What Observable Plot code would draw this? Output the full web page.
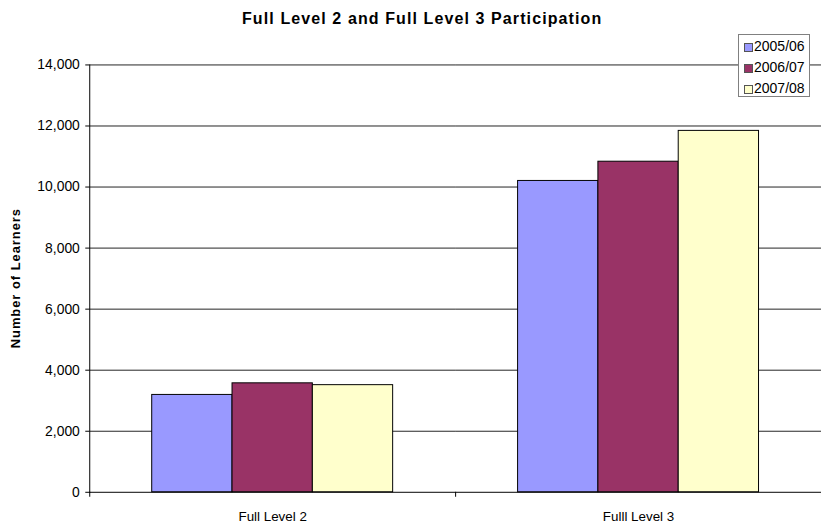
<!DOCTYPE html>
<html><head><meta charset="utf-8">
<script src="https://cdn.jsdelivr.net/npm/d3@7"></script>
<script src="https://cdn.jsdelivr.net/npm/@observablehq/plot@0.6"></script>
<style>
body{margin:0;background:#fff;}
#wrap{position:relative;width:821px;height:526px;overflow:hidden;font-family:"Liberation Sans",Arial,sans-serif;color:#000;}
#chart{position:absolute;left:0;top:0;}
#title{position:absolute;left:242px;top:11px;font-weight:bold;font-size:16px;line-height:16px;letter-spacing:1.1px;white-space:nowrap;}
#legend{position:absolute;left:738px;top:34px;width:72px;height:63px;border:1px solid #808080;background:#fff;box-sizing:border-box;padding-top:1px;}
#legend .row{height:21px;line-height:21px;font-size:14px;position:relative;white-space:nowrap;}
#legend .sw{position:absolute;left:5px;top:7px;width:7px;height:7px;border:1px solid #555;}
#legend .lab{position:absolute;left:15px;top:0;}
</style>
</head><body>
<div id="wrap">
  <div id="chart"></div>
  <div id="title">Full Level 2 and Full Level 3 Participation</div>
  <div id="legend"></div>
</div>
<script>
const categories = ["Full Level 2", "Fulll Level 3"];
const years = ["2005/06", "2006/07", "2007/08"];
const values0506 = [3190, 10200];
const values0607 = [3570, 10830];
const values0708 = [3510, 11840];
const yTicks = [0, 2000, 4000, 6000, 8000, 10000, 12000, 14000];
const colors = ["#9999FF", "#993366", "#FFFFCC"];
const yLabel = "Number of Learners";

const seriesValues = [values0506, values0607, values0708];
const data = [];
categories.forEach((c, i) => years.forEach((yr, j) => data.push({category: c, year: yr, value: seriesValues[j][i]})));

const chart = Plot.plot({
  width: 828, height: 526,
  marginLeft: 90, marginRight: 0, marginTop: 65, marginBottom: 30,
  style: {fontFamily: "'Liberation Sans', Arial, sans-serif", fontSize: "14px", background: "transparent", color: "#000", overflow: "visible"},
  fx: {domain: categories, padding: 0, label: null, axis: null},
  x: {domain: years, paddingInner: 0, paddingOuter: 0.753, axis: null},
  y: {domain: [0, 14000]},
  color: {domain: years, range: colors},
  marks: [
    Plot.gridY(yTicks.filter(d => d > 0), {stroke: "#222", strokeOpacity: 1}),
    Plot.barY(data, {fx: "category", x: "year", y: "value", fill: "year", stroke: "#000", strokeWidth: 1}),
    Plot.axisY(yTicks, {tickFormat: d3.format(","), tickSize: 4, tickPadding: 6, label: null, fontSize: 14, stroke: "#000"}),
    Plot.axisFx({anchor: "bottom", tickSize: 0, tickPadding: 19, label: null, fontSize: 13.5}),
    Plot.ruleY([0], {stroke: "#000"}),
    Plot.frame({anchor: "left", facetAnchor: "left", stroke: "#000"})
  ]
});
document.getElementById("chart").appendChild(chart);

// band-edge ticks on the category axis and y-axis title
const fxs = chart.scale("fx");
const ys = chart.scale("y");
const svg = d3.select(chart);
const y0 = ys.apply(0);
const edges = categories.map(c => fxs.apply(c)).concat([fxs.apply(categories[categories.length - 1]) + fxs.bandwidth]);
svg.append("g").selectAll("line").data(edges).join("line")
  .attr("x1", d => Math.round(d) + 0.5).attr("x2", d => Math.round(d) + 0.5)
  .attr("y1", y0).attr("y2", y0 + 5).attr("stroke", "#000");
svg.append("text")
  .attr("transform", `translate(16,${(ys.apply(0) + ys.apply(14000)) / 2}) rotate(-90)`)
  .attr("text-anchor", "middle").attr("dominant-baseline", "central")
  .attr("font-weight", "bold").attr("font-size", 13).attr("letter-spacing", 1)
  .attr("fill", "#000")
  .text(yLabel);

// legend
const legend = d3.select("#legend");
years.forEach((yr, j) => {
  const row = legend.append("div").attr("class", "row");
  row.append("div").attr("class", "sw").style("background", colors[j]);
  row.append("div").attr("class", "lab").text(yr);
});
</script>
</body></html>
